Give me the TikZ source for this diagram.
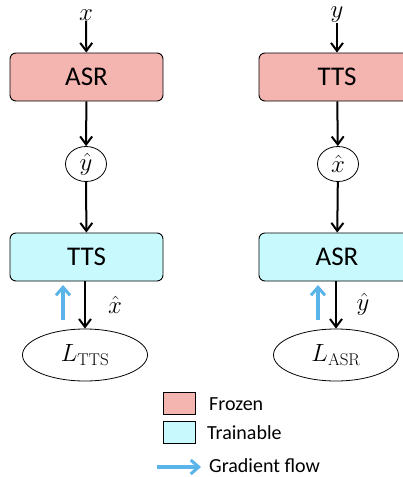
\documentclass[tikz,border=0pt]{standalone}
\usepackage{fontspec}
\setmainfont{Carlito}
\newfontfamily\lmserif{Latin Modern Roman}
\usetikzlibrary{arrows.meta,shapes.geometric}
\definecolor{frozenc}{HTML}{F4B4B0}
\definecolor{trainc}{HTML}{C8FAFD}
\definecolor{gradc}{HTML}{5AB4EA}
\newcommand{\subtxt}[1]{\mbox{\fontsize{17}{20}\selectfont\lmserif #1}}
\tikzset{
  model/.style={draw, line width=0.9pt, rounded corners=6pt, minimum width=153pt, minimum height=48pt, inner sep=0pt, font=\fontsize{27}{30}\selectfont},
  frozen/.style={model, fill=frozenc},
  trainable/.style={model, fill=trainc},
  varnode/.style={draw, ellipse, line width=0.8pt, minimum width=41pt, minimum height=35pt, inner sep=0pt, font=\fontsize{23}{26}\selectfont},
  lossnode/.style={draw, ellipse, line width=0.8pt, minimum width=125pt, minimum height=52pt, inner sep=0pt, font=\fontsize{24}{28}\selectfont},
  lbl/.style={inner sep=0pt, font=\fontsize{24}{28}\selectfont},
  flow/.style={line width=2pt, -{Straight Barb[length=8pt, width=12pt, line width=2pt]}},
  grad/.style={gradc, line width=3.4pt, -{Straight Barb[length=8pt, width=14pt, line width=3pt]}},
  legbox/.style={draw, line width=0.8pt, minimum width=32pt, minimum height=22pt, inner sep=0pt},
  legtext/.style={anchor=west, inner sep=0pt, font=\fontsize{20}{24}\selectfont}
}
\begin{document}
\begin{tikzpicture}[x=1pt,y=-1pt]
\useasboundingbox (0,0) rectangle (403,477);
\clip (0,0) rectangle (403,477);
% left column
\node[lbl] (x) at (86,15) {$x$};
\node[frozen] (asrA) at (86.5,77) {ASR};
\node[varnode] (yh) at (86,164) {$\hat{y}$};
\node[trainable] (ttsB) at (86.5,257) {TTS};
\node[lossnode] (lt) at (85,355) {$L_{\subtxt{TTS}}$};
\node[lbl] (xhl) at (115,305) {$\hat{x}$};
\coordinate (g1s) at (63,320);
\coordinate (g1e) at (63,285);
\draw[flow] (x) -- (asrA);
\draw[flow] (asrA) -- (yh);
\draw[flow] (yh) -- (ttsB);
\draw[flow] (ttsB.south -| lt.north) -- (lt);
\draw[grad] (g1s) -- (g1e);
% right column
\node[lbl] (y) at (337,15) {$y$};
\node[frozen, minimum width=156pt] (ttsA) at (337,77) {TTS};
\node[varnode] (xh) at (338,164) {$\hat{x}$};
\node[trainable, minimum width=156pt] (asrB) at (337,257) {ASR};
\node[lossnode] (la) at (336,355) {$L_{\subtxt{ASR}}$};
\node[lbl] (yhl) at (363,304) {$\hat{y}$};
\coordinate (g2s) at (318,320);
\coordinate (g2e) at (318,285);
\draw[flow] (y) -- (ttsA);
\draw[flow] (ttsA) -- (xh);
\draw[flow] (xh) -- (asrB);
\draw[flow] (asrB.south -| la.north) -- (la);
\draw[grad] (g2s) -- (g2e);
% legend
\node[legbox, fill=frozenc] (lf) at (179,403) {};
\node[legbox, fill=trainc] (ltr) at (179,432) {};
\node[legtext] (tf) at (209,404) {Frozen};
\node[legtext] (ttr) at (207,433) {Trainable};
\coordinate (gls) at (157,467);
\coordinate (gle) at (201,467);
\draw[grad] (gls) -- (gle);
\node[legtext] (tg) at (209,466) {Gradient flow};
\end{tikzpicture}
\end{document}
